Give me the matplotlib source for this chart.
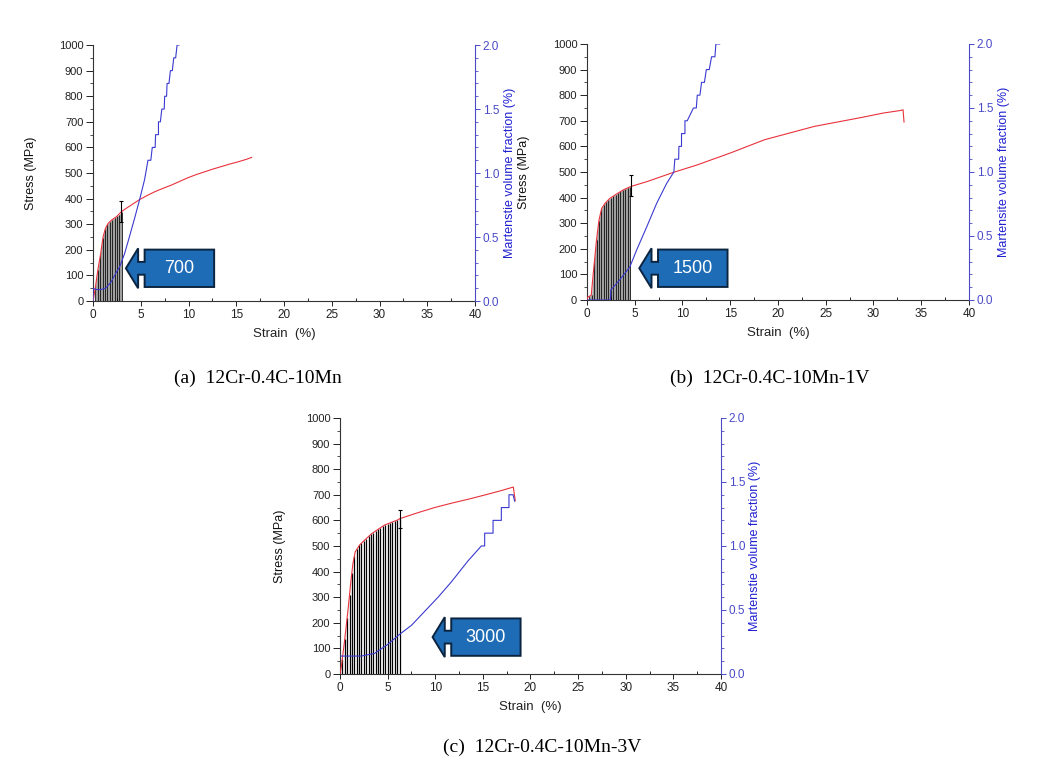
import matplotlib
matplotlib.use('Agg')
import matplotlib.pyplot as plt
from matplotlib.patches import Polygon
from matplotlib.ticker import MultipleLocator, FormatStrFormatter

# ---- (a) 12Cr-0.4C-10Mn
strain_a = [0, 0.25, 0.5, 0.8, 1.05, 1.3, 1.57, 1.92, 2.44, 2.97, 3.3, 4.0, 4.9, 5.7,
            6.46, 7.3, 8.2, 9.1, 9.95, 10.8, 11.7, 12.5, 13.4, 14.3, 15.2, 16.0, 16.6]
stress_a = [0, 55, 121, 186, 251, 284, 303, 316, 329, 349, 358, 375, 397, 413,
            427, 440, 453, 468, 482, 494, 505, 515, 525, 535, 544, 553, 561]
vf_strain_a = [0, 0, 0.3, 0.8, 1.3, 1.9, 2.4, 2.8, 3.3, 3.8, 4.4, 4.9, 5.4, 5.75, 6.05,
               6.2, 6.5, 6.55, 6.85, 6.85, 7.05, 7.2, 7.45, 7.5, 7.7, 7.75, 7.95,
               8.1, 8.3, 8.45, 8.65, 8.8, 9.0]
vf_a = [0, 0.1, 0.09, 0.09, 0.1, 0.15, 0.22, 0.27, 0.37, 0.5, 0.66, 0.8, 0.95, 1.1, 1.1,
        1.2, 1.2, 1.3, 1.3, 1.4, 1.4, 1.5, 1.5, 1.6, 1.6, 1.7, 1.7,
        1.8, 1.8, 1.9, 1.9, 2.0, 2.0]
bar_strain_a = [0.25, 0.5, 0.75, 1.0, 1.25, 1.5, 1.75, 2.0, 2.25, 2.5, 2.75, 3.0]
bar_stress_a = [55, 121, 178, 245, 280, 300, 310, 318, 324, 331, 338, 346]
err_a = (2.95, 350, 40)

# ---- (b) 12Cr-0.4C-10Mn-1V
strain_b = [0, 0.1, 0.45, 0.66, 1.0, 1.26, 1.54, 1.9, 2.4, 3.1, 3.8, 4.57, 6.25, 9.1,
            11.5, 15.0, 18.6, 23.8, 28.9, 31.0, 32.8, 33.1, 33.2]
stress_b = [0, 12, 18, 104, 234, 312, 358, 378, 397, 414, 430, 443, 462, 499,
            527, 574, 626, 678, 714, 730, 740, 743, 695]
vf_strain_b = [0, 2.45, 2.5, 2.76, 3.46, 4.5, 5.2, 6.25, 7.3, 8.34, 9.1, 9.2, 9.6,
               9.63, 9.9, 9.9, 10.26, 10.26, 10.5, 11.15, 11.45, 11.55, 11.83,
               12.0, 12.3, 12.5, 12.8, 13.05, 13.4, 13.5, 13.9]
vf_b = [0, 0, 0.08, 0.1, 0.16, 0.26, 0.39, 0.57, 0.755, 0.91, 1.0, 1.1, 1.1,
        1.2, 1.2, 1.3, 1.3, 1.4, 1.4, 1.5, 1.5, 1.6, 1.6,
        1.7, 1.7, 1.8, 1.8, 1.9, 1.9, 2.0, 2.0]
bar_strain_b = [0.25, 0.5, 0.75, 1.0, 1.25, 1.5, 1.75, 2.0, 2.25, 2.5, 2.75, 3.0,
                3.25, 3.5, 3.75, 4.0, 4.25, 4.5]
bar_stress_b = [14, 20, 150, 234, 310, 355, 372, 382, 392, 399, 406, 412,
                418, 424, 429, 434, 439, 443]
err_b = (4.57, 447, 41)

# ---- (c) 12Cr-0.4C-10Mn-3V
strain_c = [0, 0.14, 0.49, 0.84, 1.12, 1.36, 1.6, 2.06, 2.59, 3.29, 3.99, 4.69, 5.38,
            6.08, 6.3, 8.18, 9.93, 11.7, 13.4, 15.2, 16.9, 18.0, 18.2, 18.4]
stress_c = [0, 29, 133, 250, 354, 432, 477, 504, 523, 547, 565, 582, 592,
            602, 607, 630, 650, 667, 682, 699, 716, 728, 730, 677]
vf_strain_c = [0, 2.2, 3.6, 5.0, 6.26, 7.5, 8.9, 10.3, 11.7, 13.4, 14.84, 15.19,
               15.19, 16.07, 16.07, 16.94, 16.94, 17.74, 17.74, 18.17, 18.34]
vf_c = [0.14, 0.14, 0.16, 0.23, 0.31, 0.38, 0.49, 0.6, 0.72, 0.88, 1.0, 1.0,
        1.1, 1.1, 1.2, 1.2, 1.3, 1.3, 1.4, 1.4, 1.35]
bar_strain_c = [0.25, 0.5, 0.75, 1.0, 1.25, 1.5, 1.75, 2.0, 2.25, 2.5, 2.75, 3.0, 3.25,
                3.5, 3.75, 4.0, 4.25, 4.5, 4.75, 5.0, 5.25, 5.5, 5.75, 6.0, 6.25]
bar_stress_c = [60, 135, 220, 310, 395, 460, 488, 502, 512, 520, 528, 537, 546,
                552, 559, 565, 571, 577, 583, 587, 590, 594, 597, 601, 605]
err_c = (6.3, 605, 35)

plt.rcParams['font.family'] = ['Liberation Sans', 'DejaVu Sans']

BLUE_AX = '#4a4ac8'
BOX_BLUE = '#1e6cb6'


def callout(ax, tip_x, tip_y, text):
    """left pointing box arrow, in axes fraction"""
    head, neck, box_w = 0.032, 0.017, 0.182
    hh, nh, bh = 0.078, 0.025, 0.073
    x1 = tip_x + head
    x2 = x1 + neck
    x3 = x2 + box_w
    pts = [(tip_x, tip_y), (x1, tip_y + hh), (x1, tip_y + nh), (x2, tip_y + nh),
           (x2, tip_y + bh), (x3, tip_y + bh), (x3, tip_y - bh), (x2, tip_y - bh),
           (x2, tip_y - nh), (x1, tip_y - nh), (x1, tip_y - hh)]
    ax.add_patch(Polygon(pts, closed=True, transform=ax.transAxes, facecolor=BOX_BLUE,
                         edgecolor='#0b2440', lw=1.4, zorder=6, clip_on=False))
    ax.text((x2 + x3) / 2, tip_y, text, transform=ax.transAxes, color='white',
            fontsize=13, ha='center', va='center', zorder=7)


def draw_panel(rect, strain, stress, vf_strain, vf, bar_x, bar_y, err, grey,
               left_x, right_label, right_x, arrow_tip, arrow_text):
    ax = fig.add_axes(rect)
    ax2 = ax.twinx()

    if grey:
        ax.fill_between(bar_x, bar_y, 0, color='#a0a0a0', lw=0, zorder=1)
        ax.vlines(bar_x, 0, bar_y, color='black', lw=0.55, zorder=2)
    else:
        ax.vlines(bar_x, 0, bar_y, color='black', lw=0.9, zorder=2)
    ax.plot(strain, stress, color='#e8323c', lw=0.8, zorder=3)
    ax.errorbar([err[0]], [err[1]], yerr=[err[2]], color='black', lw=0.8,
                capsize=1.5, capthick=0.8, zorder=4)
    ax2.plot(vf_strain, vf, color='#3a3ad0', lw=0.8, zorder=2)

    ax.set_xlim(0, 40)
    ax.set_ylim(0, 1000)
    ax2.set_ylim(0, 2.0)
    ax.xaxis.set_major_locator(MultipleLocator(5))
    ax.xaxis.set_minor_locator(MultipleLocator(2.5))
    ax.yaxis.set_major_locator(MultipleLocator(100))
    ax.yaxis.set_minor_locator(MultipleLocator(50))
    ax2.yaxis.set_major_locator(MultipleLocator(0.5))
    ax2.yaxis.set_minor_locator(MultipleLocator(0.1))
    ax2.yaxis.set_major_formatter(FormatStrFormatter('%.1f'))

    for a in (ax, ax2):
        a.spines['top'].set_visible(False)
    ax.spines['right'].set_visible(False)
    ax2.spines['left'].set_visible(False)
    ax2.spines['bottom'].set_visible(False)
    ax2.spines['right'].set_color(BLUE_AX)
    ax.spines['left'].set_color('#333333')
    ax.spines['bottom'].set_color('#333333')
    for s in ('left', 'bottom'):
        ax.spines[s].set_linewidth(0.8)
    ax2.spines['right'].set_linewidth(0.8)

    ax.tick_params(axis='y', which='major', length=5, width=0.7, labelsize=8,
                   colors='#222222', pad=2)
    ax.tick_params(axis='y', which='minor', length=2.5, width=0.6, colors='#333333')
    ax.tick_params(axis='x', which='major', length=3.5, width=0.7, labelsize=8.5,
                   colors='#222222', pad=2)
    ax.tick_params(axis='x', which='minor', direction='in', length=2, width=0.6)
    ax2.tick_params(axis='y', which='major', length=3.5, width=0.7, labelsize=8.5,
                    colors=BLUE_AX, pad=2)
    ax2.tick_params(axis='y', which='minor', length=1.8, width=0.6, colors=BLUE_AX)

    ax.set_xlabel('Strain  (%)', fontsize=9.5, color='#222222', labelpad=5)
    ax.set_ylabel('Stress (MPa)', fontsize=9, color='#111111')
    ax.yaxis.set_label_coords(left_x, 0.5)
    ax2.set_ylabel(right_label, fontsize=9, color='#2020d0')
    ax2.yaxis.set_label_coords(right_x, 0.5)

    callout(ax2, arrow_tip[0], arrow_tip[1], arrow_text)
    return ax


fig = plt.figure(figsize=(10.42, 7.7), dpi=100)

draw_panel([0.0893, 0.609, 0.3666, 0.3325], strain_a, stress_a, vf_strain_a, vf_a,
           bar_strain_a, bar_stress_a, err_a, True, -0.147,
           'Martenstie volume fraction (%)', 1.076, (0.086, 0.128), '700')
draw_panel([0.5633, 0.6104, 0.3666, 0.3325], strain_b, stress_b, vf_strain_b, vf_b,
           bar_strain_b, bar_stress_b, err_b, True, -0.149,
           'Martensite volume fraction (%)', 1.076, (0.137, 0.124), '1500')
draw_panel([0.3263, 0.1247, 0.3656, 0.3325], strain_c, stress_c, vf_strain_c, vf_c,
           bar_strain_c, bar_stress_c, err_c, False, -0.142,
           'Martenstie volume fraction (%)', 1.073, (0.243, 0.144), '3000')

cap = dict(fontsize=14, family='Liberation Serif', ha='center', va='center')
fig.text(258 / 1042, 1 - 378 / 770, '(a)  12Cr-0.4C-10Mn', **cap)
fig.text(770 / 1042, 1 - 378 / 770, '(b)  12Cr-0.4C-10Mn-1V', **cap)
fig.text(542 / 1042, 1 - 747 / 770, '(c)  12Cr-0.4C-10Mn-3V', **cap)

fig.savefig('out.png', dpi=100)
